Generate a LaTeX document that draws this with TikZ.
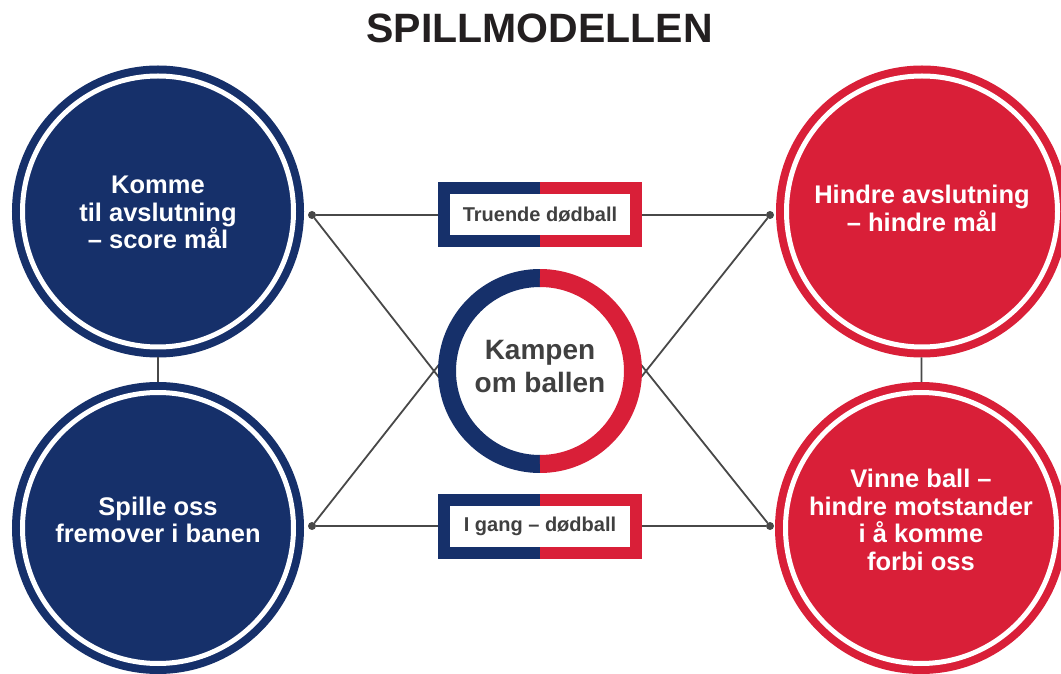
\documentclass[tikz,border=0pt]{standalone}
\usepackage{fontspec}
\setmainfont{Liberation Sans}
\usetikzlibrary{calc}
\definecolor{navy}{RGB}{22,48,106}
\definecolor{fcred}{RGB}{217,31,56}
\definecolor{txtgray}{RGB}{64,64,64}
\definecolor{linegray}{RGB}{72,72,72}
\definecolor{titleblack}{RGB}{35,31,32}
\begin{document}
\begin{tikzpicture}[x=1pt,y=1pt,
  bigcirc/.style={circle, inner sep=0pt, outer sep=10.5pt, minimum size=271pt, line width=8pt, double=white, double distance=5pt},
  bluecirc/.style={bigcirc, fill=navy, draw=navy},
  redcirc/.style={bigcirc, fill=fcred, draw=fcred},
  circtext/.style={text=white, font=\fontsize{25.5}{27.5}\selectfont\bfseries, align=center, inner sep=0pt},
  ringtext/.style={text=txtgray, font=\fontsize{28}{33}\selectfont\bfseries, align=center, inner sep=0pt},
  dotnode/.style={circle, fill=linegray, inner sep=0pt, outer sep=0pt, minimum size=8pt},
  link/.style={draw=linegray, line width=1.8pt},
  framebox/.style={rectangle, inner sep=0pt, outer sep=0pt, minimum width=204pt, minimum height=65pt,
    text=txtgray, font=\fontsize{20}{24}\selectfont\bfseries,
    path picture={
      \fill[navy] (path picture bounding box.south west) rectangle (path picture bounding box.north);
      \fill[fcred] (path picture bounding box.south) rectangle (path picture bounding box.north east);
      \fill[white] ([shift={(12pt,12pt)}]path picture bounding box.south west) rectangle ([shift={(-12pt,-12pt)}]path picture bounding box.north east);
    }},
]
\useasboundingbox (0,0) rectangle (1061,673);
\clip (0,0) rectangle (1061,673);
\fill[white] (0,0) rectangle (1061,673);

% title
\node[font=\fontsize{41}{48}\selectfont\bfseries, text=titleblack, anchor=base, inner sep=0pt] (title) at (539.5,630) {SPILLMODELLEN};

% crossing points
\coordinate (xl) at (434,302);
\coordinate (xr) at (646,302);

% dots
\node[dotnode] (dtl) at (312,458) {};
\node[dotnode] (dbl) at (312,147) {};
\node[dotnode] (dtr) at (770,458) {};
\node[dotnode] (dbr) at (770,147) {};

% diagonal lines (ends hidden behind the ring)
\draw[link] (dtl) -- ($(dtl)!1.25!(xl)$);
\draw[link] (dbl) -- ($(dbl)!1.25!(xl)$);
\draw[link] (dtr) -- ($(dtr)!1.25!(xr)$);
\draw[link] (dbr) -- ($(dbr)!1.25!(xr)$);

% central ring
\node[circle, fill=white, minimum size=204pt, inner sep=0pt, outer sep=0pt,
  label={[ringtext, yshift=4.5pt]center:{Kampen\\om ballen}}] (ring) at (540,302) {};
\draw[navy, line width=18pt] ([yshift=-9pt]ring.north) arc[start angle=90, end angle=270, radius=93pt];
\draw[fcred, line width=18pt] ([yshift=9pt]ring.south) arc[start angle=-90, end angle=90, radius=93pt];

% big circles
\node[bluecirc, label={[circtext, yshift=-1pt]center:{Komme\\til avslutning\\– score mål}}] (tl) at (158,461.5) {};
\node[bluecirc, label={[circtext, yshift=8pt]center:{Spille oss\\fremover i banen}}] (bl) at (158,145) {};
\node[redcirc, label={[circtext, yshift=3pt]center:{Hindre avslutning\\– hindre mål}}] (tr) at (922,461.5) {};
\node[redcirc, label={[circtext, yshift=8pt]center:{Vinne ball –\\hindre motstander\\i å komme\\forbi oss}}] (br) at (921,145) {};

% label boxes
\node[framebox] (tbox) at (540,458) {Truende dødball};
\node[framebox] (bbox) at (540,147) {I gang – dødball};

% connectors
\draw[link] (dtl) -- (tbox);
\draw[link] (tbox) -- (dtr);
\draw[link] (dbl) -- (bbox);
\draw[link] (bbox) -- (dbr);
\draw[link] (tl) -- (bl);
\draw[link] (tr) -- (br);
\end{tikzpicture}
\end{document}
